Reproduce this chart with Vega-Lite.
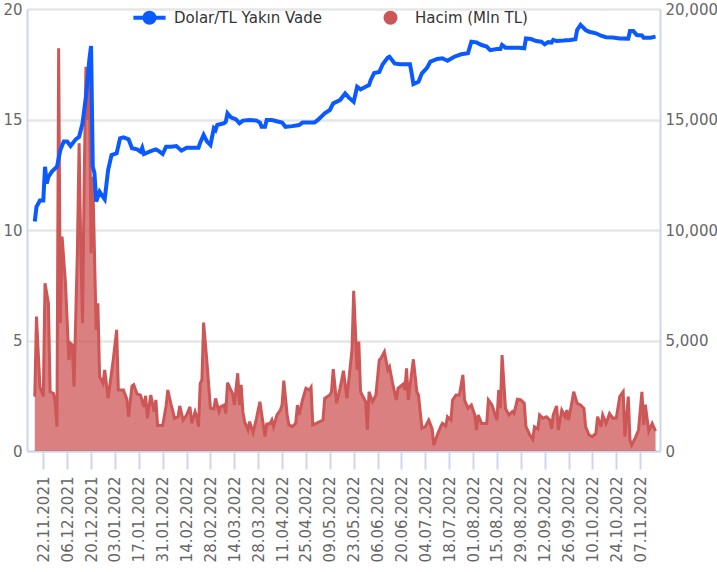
{
  "$schema": "https://vega.github.io/schema/vega-lite/v6.json",
  "width": 633,
  "height": 442,
  "autosize": "none",
  "padding": {"left": 27, "top": 9, "right": 57, "bottom": 121},
  "background": "white",
  "config": {
    "view": {"stroke": null},
    "font": "DejaVu Sans",
    "axis": {"labelOverlap": false}
  },
  "datasets": {
    "usd": [
      {"d":"2021-11-17","v":10.38},{"d":"2021-11-18","v":11.05},{"d":"2021-11-20","v":11.33},{"d":"2021-11-22","v":11.33},{"d":"2021-11-23","v":12.86},{"d":"2021-11-24","v":12.1},{"d":"2021-11-25","v":12.4},{"d":"2021-11-27","v":12.64},{"d":"2021-11-30","v":12.86},{"d":"2021-12-02","v":13.62},{"d":"2021-12-04","v":14.0},{"d":"2021-12-06","v":14.0},{"d":"2021-12-08","v":13.8},{"d":"2021-12-11","v":14.1},{"d":"2021-12-13","v":14.22},{"d":"2021-12-15","v":14.83},{"d":"2021-12-17","v":16.03},{"d":"2021-12-19","v":17.7},{"d":"2021-12-20","v":18.33},{"d":"2021-12-21","v":12.86},{"d":"2021-12-22","v":12.57},{"d":"2021-12-23","v":11.28},{"d":"2021-12-25","v":11.73},{"d":"2021-12-28","v":11.39},{"d":"2021-12-30","v":12.71},
      {"d":"2022-01-01","v":13.39},{"d":"2022-01-04","v":13.47},{"d":"2022-01-06","v":14.15},{"d":"2022-01-08","v":14.19},{"d":"2022-01-11","v":14.1},{"d":"2022-01-13","v":13.7},{"d":"2022-01-16","v":13.65},{"d":"2022-01-18","v":13.54},{"d":"2022-01-19","v":13.72},{"d":"2022-01-20","v":13.44},{"d":"2022-01-24","v":13.57},{"d":"2022-01-27","v":13.65},{"d":"2022-01-29","v":13.56},{"d":"2022-01-31","v":13.44},{"d":"2022-02-02","v":13.77},{"d":"2022-02-05","v":13.77},{"d":"2022-02-08","v":13.8},{"d":"2022-02-11","v":13.59},{"d":"2022-02-14","v":13.72},{"d":"2022-02-17","v":13.72},{"d":"2022-02-21","v":13.72},{"d":"2022-02-22","v":13.95},{"d":"2022-02-24","v":14.3},{"d":"2022-02-26","v":14.0},{"d":"2022-02-28","v":13.85},
      {"d":"2022-03-02","v":14.6},{"d":"2022-03-03","v":14.52},{"d":"2022-03-04","v":14.75},{"d":"2022-03-08","v":14.83},{"d":"2022-03-09","v":14.9},{"d":"2022-03-10","v":15.28},{"d":"2022-03-12","v":15.1},{"d":"2022-03-15","v":15.0},{"d":"2022-03-17","v":14.83},{"d":"2022-03-19","v":14.95},{"d":"2022-03-23","v":14.98},{"d":"2022-03-27","v":14.95},{"d":"2022-03-29","v":14.86},{"d":"2022-03-30","v":14.67},{"d":"2022-04-01","v":14.67},{"d":"2022-04-02","v":14.98},{"d":"2022-04-05","v":14.98},{"d":"2022-04-09","v":14.9},{"d":"2022-04-11","v":14.86},{"d":"2022-04-13","v":14.67},{"d":"2022-04-17","v":14.7},{"d":"2022-04-21","v":14.75},{"d":"2022-04-23","v":14.86},{"d":"2022-04-27","v":14.86},{"d":"2022-04-30","v":14.86},
      {"d":"2022-05-02","v":14.98},{"d":"2022-05-06","v":15.28},{"d":"2022-05-09","v":15.43},{"d":"2022-05-11","v":15.73},{"d":"2022-05-15","v":15.88},{"d":"2022-05-18","v":16.18},{"d":"2022-05-20","v":16.0},{"d":"2022-05-23","v":15.8},{"d":"2022-05-25","v":16.48},{"d":"2022-05-27","v":16.36},{"d":"2022-05-30","v":16.48},{"d":"2022-06-01","v":16.56},{"d":"2022-06-02","v":16.79},{"d":"2022-06-04","v":17.1},{"d":"2022-06-07","v":17.15},{"d":"2022-06-09","v":17.5},{"d":"2022-06-12","v":17.8},{"d":"2022-06-13","v":17.84},{"d":"2022-06-16","v":17.54},{"d":"2022-06-19","v":17.5},{"d":"2022-06-25","v":17.5},{"d":"2022-06-26","v":17.09},{"d":"2022-06-27","v":16.6},{"d":"2022-06-30","v":16.71},
      {"d":"2022-07-02","v":17.09},{"d":"2022-07-05","v":17.34},{"d":"2022-07-07","v":17.62},{"d":"2022-07-11","v":17.74},{"d":"2022-07-14","v":17.77},{"d":"2022-07-17","v":17.66},{"d":"2022-07-21","v":17.84},{"d":"2022-07-25","v":17.95},{"d":"2022-07-29","v":18.0},{"d":"2022-07-31","v":18.52},{"d":"2022-08-03","v":18.49},{"d":"2022-08-06","v":18.37},{"d":"2022-08-09","v":18.3},{"d":"2022-08-11","v":18.14},{"d":"2022-08-15","v":18.19},{"d":"2022-08-17","v":18.19},{"d":"2022-08-18","v":18.37},{"d":"2022-08-20","v":18.25},{"d":"2022-08-24","v":18.25},{"d":"2022-08-28","v":18.25},{"d":"2022-08-31","v":18.22},
      {"d":"2022-09-01","v":18.67},{"d":"2022-09-04","v":18.64},{"d":"2022-09-07","v":18.55},{"d":"2022-09-10","v":18.52},{"d":"2022-09-12","v":18.4},{"d":"2022-09-14","v":18.5},{"d":"2022-09-16","v":18.48},{"d":"2022-09-17","v":18.6},{"d":"2022-09-19","v":18.55},{"d":"2022-09-23","v":18.57},{"d":"2022-09-27","v":18.6},{"d":"2022-09-30","v":18.63},{"d":"2022-10-01","v":19.05},{"d":"2022-10-03","v":19.28},{"d":"2022-10-06","v":19.05},{"d":"2022-10-08","v":18.97},{"d":"2022-10-12","v":18.9},{"d":"2022-10-15","v":18.79},{"d":"2022-10-18","v":18.72},{"d":"2022-10-22","v":18.71},{"d":"2022-10-26","v":18.67},{"d":"2022-10-31","v":18.66},{"d":"2022-11-01","v":19.0},{"d":"2022-11-03","v":19.0},{"d":"2022-11-05","v":18.82},{"d":"2022-11-08","v":18.8},{"d":"2022-11-09","v":18.7},{"d":"2022-11-13","v":18.7},{"d":"2022-11-16","v":18.75}
    ],
    "vol": [
      {"d":"2021-11-17","v":2460},{"d":"2021-11-18","v":6080},{"d":"2021-11-20","v":2910},{"d":"2021-11-22","v":2460},{"d":"2021-11-23","v":7590},{"d":"2021-11-25","v":6680},{"d":"2021-11-26","v":2680},{"d":"2021-11-28","v":2600},{"d":"2021-11-29","v":2160},{"d":"2021-11-30","v":1100},{"d":"2021-12-01","v":18220},{"d":"2021-12-02","v":5780},{"d":"2021-12-03","v":9700},{"d":"2021-12-05","v":7590},{"d":"2021-12-07","v":4120},{"d":"2021-12-08","v":4870},{"d":"2021-12-09","v":4800},{"d":"2021-12-10","v":2910},{"d":"2021-12-12","v":9100},{"d":"2021-12-13","v":13920},{"d":"2021-12-14","v":9100},{"d":"2021-12-15","v":5780},{"d":"2021-12-16","v":12410},{"d":"2021-12-17","v":17390},{"d":"2021-12-18","v":14980},{"d":"2021-12-19","v":17090},{"d":"2021-12-20","v":8950},{"d":"2021-12-21","v":12410},{"d":"2021-12-23","v":5480},{"d":"2021-12-24","v":6680},{"d":"2021-12-25","v":3360},{"d":"2021-12-27","v":3060},{"d":"2021-12-28","v":3670},{"d":"2021-12-30","v":2380},
      {"d":"2022-01-02","v":4120},{"d":"2022-01-04","v":5480},{"d":"2022-01-05","v":2760},{"d":"2022-01-06","v":2760},{"d":"2022-01-08","v":2760},{"d":"2022-01-10","v":2340},{"d":"2022-01-11","v":1550},{"d":"2022-01-13","v":2940},{"d":"2022-01-14","v":3000},{"d":"2022-01-16","v":2580},{"d":"2022-01-18","v":2530},{"d":"2022-01-20","v":2000},{"d":"2022-01-21","v":2500},{"d":"2022-01-22","v":1480},{"d":"2022-01-24","v":2530},{"d":"2022-01-26","v":1780},{"d":"2022-01-27","v":2310},{"d":"2022-01-28","v":1150},{"d":"2022-01-31","v":1150},{"d":"2022-02-02","v":2040},{"d":"2022-02-03","v":2760},{"d":"2022-02-05","v":2080},{"d":"2022-02-07","v":1480},{"d":"2022-02-09","v":1550},{"d":"2022-02-10","v":2040},{"d":"2022-02-12","v":1400},{"d":"2022-02-14","v":1630},{"d":"2022-02-16","v":2000},{"d":"2022-02-17","v":1250},{"d":"2022-02-19","v":1780},{"d":"2022-02-20","v":1550},{"d":"2022-02-21","v":1100},{"d":"2022-02-22","v":3060},{"d":"2022-02-23","v":3210},{"d":"2022-02-24","v":5810},{"d":"2022-02-26","v":3970},{"d":"2022-02-28","v":1930},
      {"d":"2022-03-02","v":1900},{"d":"2022-03-03","v":2380},{"d":"2022-03-05","v":1780},{"d":"2022-03-06","v":2000},{"d":"2022-03-08","v":2080},{"d":"2022-03-09","v":1700},{"d":"2022-03-10","v":3090},{"d":"2022-03-13","v":2580},{"d":"2022-03-14","v":2080},{"d":"2022-03-16","v":3520},{"d":"2022-03-17","v":2080},{"d":"2022-03-18","v":2990},{"d":"2022-03-19","v":1780},{"d":"2022-03-20","v":1330},{"d":"2022-03-22","v":950},{"d":"2022-03-23","v":1330},{"d":"2022-03-25","v":830},{"d":"2022-03-27","v":1480},{"d":"2022-03-29","v":2230},{"d":"2022-03-30","v":1700},{"d":"2022-04-01","v":650},{"d":"2022-04-02","v":1220},{"d":"2022-04-04","v":1250},{"d":"2022-04-05","v":1400},{"d":"2022-04-06","v":1100},{"d":"2022-04-08","v":1630},{"d":"2022-04-10","v":1850},{"d":"2022-04-11","v":2080},{"d":"2022-04-12","v":3180},{"d":"2022-04-14","v":1630},{"d":"2022-04-15","v":1180},{"d":"2022-04-17","v":1100},{"d":"2022-04-19","v":1250},{"d":"2022-04-20","v":2080},{"d":"2022-04-21","v":1630},{"d":"2022-04-23","v":2310},{"d":"2022-04-25","v":2840},{"d":"2022-04-27","v":2760},{"d":"2022-04-28","v":2880},{"d":"2022-04-29","v":1180},
      {"d":"2022-05-01","v":1250},{"d":"2022-05-05","v":1400},{"d":"2022-05-06","v":2380},{"d":"2022-05-09","v":2530},{"d":"2022-05-10","v":2690},{"d":"2022-05-11","v":3700},{"d":"2022-05-13","v":2160},{"d":"2022-05-15","v":2840},{"d":"2022-05-17","v":3630},{"d":"2022-05-19","v":2380},{"d":"2022-05-22","v":4570},{"d":"2022-05-23","v":7250},{"d":"2022-05-25","v":3670},{"d":"2022-05-26","v":4950},{"d":"2022-05-27","v":2680},{"d":"2022-05-30","v":2230},{"d":"2022-05-31","v":950},{"d":"2022-06-01","v":2680},{"d":"2022-06-03","v":2230},{"d":"2022-06-05","v":2530},{"d":"2022-06-07","v":4120},{"d":"2022-06-08","v":4200},{"d":"2022-06-10","v":4490},{"d":"2022-06-12","v":3670},{"d":"2022-06-13","v":3810},{"d":"2022-06-15","v":2990},{"d":"2022-06-17","v":2310},{"d":"2022-06-18","v":2840},{"d":"2022-06-21","v":3030},{"d":"2022-06-22","v":2760},{"d":"2022-06-23","v":3740},{"d":"2022-06-24","v":2310},{"d":"2022-06-27","v":4150},{"d":"2022-06-29","v":2680},{"d":"2022-06-30","v":2530},
      {"d":"2022-07-02","v":1030},{"d":"2022-07-04","v":1100},{"d":"2022-07-06","v":1400},{"d":"2022-07-08","v":1000},{"d":"2022-07-09","v":270},{"d":"2022-07-11","v":720},{"d":"2022-07-13","v":1100},{"d":"2022-07-14","v":1250},{"d":"2022-07-16","v":1130},{"d":"2022-07-17","v":1550},{"d":"2022-07-19","v":1400},{"d":"2022-07-20","v":2310},{"d":"2022-07-22","v":2530},{"d":"2022-07-24","v":2530},{"d":"2022-07-26","v":3440},{"d":"2022-07-27","v":2310},{"d":"2022-07-29","v":1930},{"d":"2022-07-31","v":2080},{"d":"2022-08-02","v":1630},{"d":"2022-08-03","v":950},{"d":"2022-08-04","v":1630},{"d":"2022-08-06","v":1250},{"d":"2022-08-09","v":1250},{"d":"2022-08-10","v":2310},{"d":"2022-08-12","v":2100},{"d":"2022-08-14","v":1630},{"d":"2022-08-15","v":1400},{"d":"2022-08-16","v":2760},{"d":"2022-08-17","v":1930},{"d":"2022-08-18","v":4340},{"d":"2022-08-20","v":1930},{"d":"2022-08-22","v":1630},{"d":"2022-08-24","v":1780},{"d":"2022-08-25","v":1700},{"d":"2022-08-27","v":2340},{"d":"2022-08-29","v":2310},{"d":"2022-08-31","v":2160},
      {"d":"2022-09-01","v":1100},{"d":"2022-09-03","v":770},{"d":"2022-09-05","v":530},{"d":"2022-09-06","v":1100},{"d":"2022-09-08","v":1000},{"d":"2022-09-09","v":1630},{"d":"2022-09-11","v":1480},{"d":"2022-09-13","v":1550},{"d":"2022-09-15","v":1400},{"d":"2022-09-16","v":1000},{"d":"2022-09-17","v":1630},{"d":"2022-09-19","v":2040},{"d":"2022-09-20","v":950},{"d":"2022-09-22","v":1850},{"d":"2022-09-24","v":1550},{"d":"2022-09-25","v":1850},{"d":"2022-09-26","v":1400},{"d":"2022-09-28","v":2230},{"d":"2022-09-29","v":2680},{"d":"2022-10-01","v":2160},{"d":"2022-10-03","v":2080},{"d":"2022-10-05","v":1930},{"d":"2022-10-06","v":1100},{"d":"2022-10-08","v":720},{"d":"2022-10-10","v":650},{"d":"2022-10-12","v":800},{"d":"2022-10-13","v":1550},{"d":"2022-10-15","v":1100},{"d":"2022-10-16","v":1630},{"d":"2022-10-18","v":1250},{"d":"2022-10-20","v":1700},{"d":"2022-10-22","v":1480},{"d":"2022-10-24","v":1500},{"d":"2022-10-26","v":2460},{"d":"2022-10-28","v":2680},{"d":"2022-10-29","v":650},{"d":"2022-10-31","v":2460},{"d":"2022-11-01","v":500},{"d":"2022-11-02","v":270},{"d":"2022-11-04","v":570},{"d":"2022-11-06","v":950},{"d":"2022-11-08","v":2680},{"d":"2022-11-09","v":1180},{"d":"2022-11-10","v":2100},{"d":"2022-11-12","v":900},{"d":"2022-11-14","v":1250},{"d":"2022-11-16","v":900}
    ]
  },
  "layer": [
    {
      "data": {"name": "vol"},
      "mark": {"type": "area", "interpolate": "linear", "fillOpacity": 0.75, "line": {"strokeWidth": 3}},
      "encoding": {
        "x": {
          "field": "d", "type": "temporal",
          "scale": {"type": "utc", "domain": [1636713000000, 1668781800000]},
          "axis": {
            "title": null, "grid": false, "tickCount": 40,
            "values": [1637539200000,1638748800000,1639958400000,1641168000000,1642377600000,1643587200000,1644796800000,1646006400000,1647216000000,1648425600000,1649635200000,1650844800000,1652054400000,1653264000000,1654473600000,1655683200000,1656892800000,1658102400000,1659312000000,1660521600000,1661731200000,1662940800000,1664150400000,1665360000000,1666569600000,1667779200000],
            "labelExpr": "utcFormat(datum.value, '%d.%m.%Y')",
            "labelAngle": 270, "labelAlign": "right", "labelBaseline": "middle",
            "labelOverlap": false, "labelFlush": false, "labelSeparation": 0,
            "labelFont": "DejaVu Sans", "labelFontSize": 15, "labelColor": "#666666", "labelPadding": 7,
            "tickSize": 18, "tickWidth": 2, "tickColor": "#ccd6eb",
            "domainColor": "#ccd6eb", "domainWidth": 2
          }
        },
        "y": {
          "field": "v", "type": "quantitative",
          "scale": {"domain": [0, 20000], "nice": false, "zero": true},
          "axis": {
            "orient": "right", "title": null, "grid": false,
            "values": [0, 5000, 10000, 15000, 20000], "format": ",.0f",
            "ticks": false, "tickSize": 0, "labelPadding": 5,
            "labelFont": "DejaVu Sans", "labelFontSize": 15, "labelColor": "#666666",
            "labelBaseline": "middle", "labelFlush": false,
            "domainColor": "#ccd6eb", "domainWidth": 2
          }
        },
        "color": {
          "datum": "Hacim (Mln TL)",
          "scale": {"domain": ["Dolar/TL Yakın Vade", "Hacim (Mln TL)"], "range": ["#0a5aff", "#cd5656"]},
          "legend": {
            "orient": "none", "legendX": 115, "legendY": 1, "direction": "horizontal",
            "title": null, "padding": 0,
            "symbolSize": 196, "symbolOpacity": 1, "symbolStrokeWidth": 0,
            "labelFont": "DejaVu Sans", "labelFontSize": 15, "labelColor": "#333333",
            "labelOffset": 17, "columnPadding": 60,
            "encode": {"symbols": {"update": {"shape": {"signal": "datum.label == 'Dolar/TL Yakın Vade' ? 'M-2.3,-0.28H2.3V0.28H-2.3Z M1,0A1,1,0,1,1,-1,0A1,1,0,1,1,1,0Z' : 'circle'"}, "opacity": {"value": 1}, "fillOpacity": {"value": 1}}}}
          }
        }
      }
    },
    {
      "data": {"name": "usd"},
      "mark": {"type": "line", "interpolate": "linear", "color": "#0a5aff", "strokeWidth": 4},
      "encoding": {
        "x": {"field": "d", "type": "temporal"},
        "y": {
          "field": "v", "type": "quantitative",
          "scale": {"domain": [0, 20], "nice": false, "zero": true},
          "axis": {
            "orient": "left", "title": null,
            "values": [0, 5, 10, 15, 20],
            "grid": true, "gridColor": "#e6e6e6", "gridWidth": 2.5,
            "ticks": false, "tickSize": 0, "labelPadding": 5,
            "labelFont": "DejaVu Sans", "labelFontSize": 15, "labelColor": "#666666",
            "labelBaseline": "middle", "labelFlush": false,
            "domainColor": "#ccd6eb", "domainWidth": 2
          }
        }
      }
    }
  ],
  "resolve": {"scale": {"y": "independent"}}
}
